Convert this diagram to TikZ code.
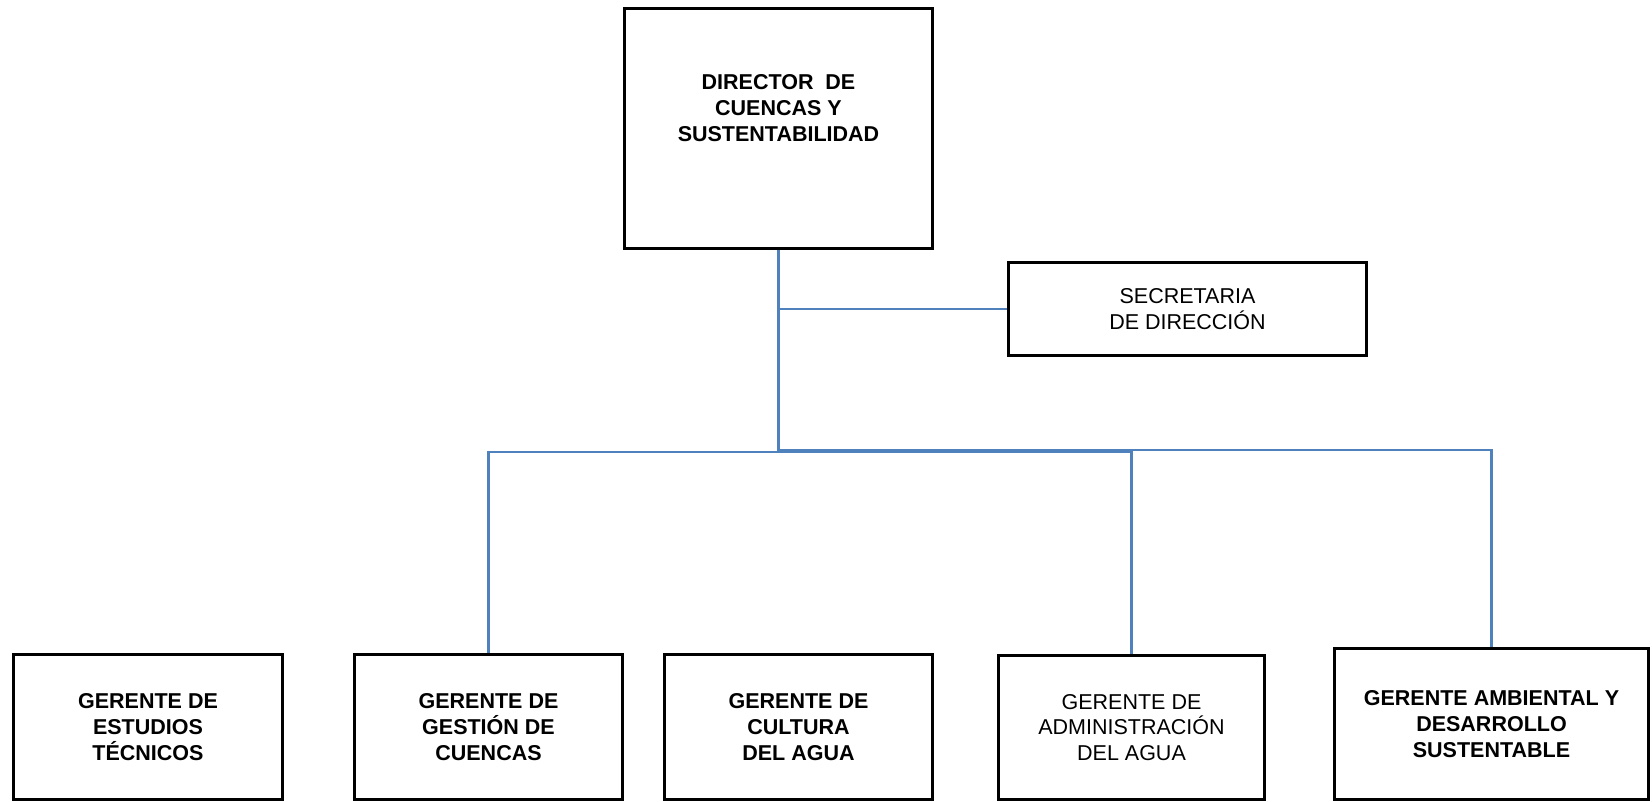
\documentclass[tikz,border=0pt]{standalone}
\usepackage{fontspec}
\setmainfont{Liberation Sans}
\definecolor{linkblue}{HTML}{4F81BD}
\tikzset{
  orgbox/.style={draw=black, line width=2.7pt, fill=white, rectangle, inner sep=0pt, align=center},
  boldtxt/.style={font=\fontsize{21.5}{25.7}\selectfont\bfseries, align=center},
  plaintxt/.style={font=\fontsize{21.5}{25.7}\selectfont, align=center},
  conn/.style={draw=linkblue, line width=2.2pt}
}
\begin{document}
\begin{tikzpicture}[x=1pt, y=-1pt]
\useasboundingbox (0,0) rectangle (1652,802);
% connectors first (behind boxes)
\coordinate (dirfoot) at (778.5,248);
\coordinate (busA) at (778.5,452);
\coordinate (busB) at (778.5,450);
\coordinate (g2top) at (488.5,653);
\coordinate (g4top) at (1131.5,654);
\coordinate (g5top) at (1491.5,647);
\coordinate (secl) at (1007,309);
\draw[conn] (dirfoot) -- (busA) -| (g2top);
\draw[conn] (busA) -| (g4top);
\draw[conn] (busB) -| (g5top);
\draw[conn] (dirfoot |- secl) -- (secl);
% boxes
\node[orgbox, minimum width=308.3pt, minimum height=240.3pt] (dir) at (778.5,128.5) {};
\node[boldtxt] (dirtxt) at (778.5,108) {DIRECTOR\ \ DE\\CUENCAS Y\\SUSTENTABILIDAD};
\node[orgbox, plaintxt, minimum width=358.3pt, minimum height=93.3pt] (sec) at (1187.5,309) {SECRETARIA\\DE DIRECCIÓN};
\node[orgbox, boldtxt, minimum width=269.3pt, minimum height=145.3pt] (g1) at (148,727) {GERENTE DE\\ESTUDIOS\\TÉCNICOS};
\node[orgbox, boldtxt, minimum width=268.3pt, minimum height=145.3pt] (g2) at (488.5,727) {GERENTE DE\\GESTIÓN DE\\CUENCAS};
\node[orgbox, boldtxt, minimum width=268.3pt, minimum height=145.3pt] (g3) at (798.5,727) {GERENTE DE\\CULTURA\\DEL AGUA};
\node[orgbox, plaintxt, minimum width=266.3pt, minimum height=144.3pt] (g4) at (1131.5,727.5) {GERENTE DE\\ADMINISTRACIÓN\\DEL AGUA};
\node[orgbox, boldtxt, minimum width=314.3pt, minimum height=151.3pt] (g5) at (1491.5,724) {GERENTE AMBIENTAL Y\\DESARROLLO\\SUSTENTABLE};
\end{tikzpicture}
\end{document}
